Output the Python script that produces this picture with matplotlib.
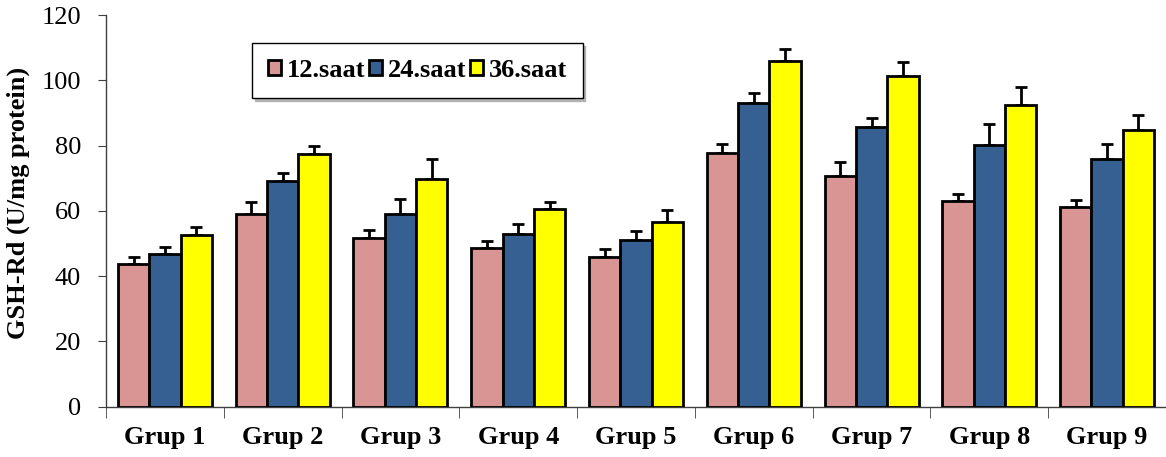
import numpy as np
import matplotlib.pyplot as plt

groups = ["Grup 1", "Grup 2", "Grup 3", "Grup 4", "Grup 5", "Grup 6", "Grup 7", "Grup 8", "Grup 9"]
series = ["12.saat", "24.saat", "36.saat"]

# ortalama değerler
s12 = [43.6, 58.9, 51.6, 48.6, 45.8, 77.6, 70.7, 63.0, 61.2]
s24 = [46.7, 69.2, 59.1, 52.9, 51.1, 92.9, 85.8, 80.2, 75.8]
s36 = [52.6, 77.4, 69.6, 60.5, 56.6, 105.8, 101.2, 92.3, 84.8]

# standart hata (yalnızca yukarı)
e12 = [2.3, 3.7, 2.4, 2.2, 2.5, 2.8, 4.2, 2.2, 2.2]
e24 = [2.3, 2.3, 4.4, 3.1, 2.8, 3.1, 2.5, 6.4, 4.6]
e36 = [2.5, 2.5, 6.2, 2.3, 3.5, 3.7, 4.3, 5.5, 4.6]

colors = ["#D99594", "#366092", "#FFFF00"]

plt.rcParams["font.family"] = ["Liberation Serif", "DejaVu Serif"]

fig = plt.figure(figsize=(11.66, 4.57), dpi=100)
ax = fig.add_axes([0.0909, 0.1105, 0.9091, 0.8565])

x = np.arange(len(groups))
w = 0.266
for i, (vals, errs, col, lab) in enumerate(zip([s12, s24, s36], [e12, e24, e36], colors, series)):
    pos = x + (i - 1) * w
    ax.bar(pos, vals, width=w, color=col, edgecolor="black", linewidth=2, label=lab, zorder=3)
    ax.errorbar(pos, vals, yerr=[np.zeros(len(errs)), errs], fmt="none", ecolor="black",
                elinewidth=2, capsize=4.5, capthick=2, zorder=2)

ax.set_xlim(-0.5, len(groups) - 0.5)
ax.set_ylim(0, 120)
ax.set_yticks(np.arange(0, 121, 20))
ax.tick_params(axis="y", labelsize=19, direction="out", length=6, pad=12, color="#404040")
ax.set_xticks(x)
ax.set_xticklabels(groups, fontsize=19, fontweight="bold")
ax.tick_params(axis="x", which="major", length=0, pad=14)
ax.set_xticks(np.arange(-0.5, len(groups)), minor=True)
ax.tick_params(axis="x", which="minor", length=8, direction="out", color="#404040")
ax.set_ylabel("GSH-Rd (U/mg protein)", fontsize=19, fontweight="bold", labelpad=10)
ax.yaxis.set_label_coords(-0.072, 0.52)

for s in ["top", "right"]:
    ax.spines[s].set_visible(False)
for s in ["left", "bottom"]:
    ax.spines[s].set_color("#404040")
    ax.spines[s].set_linewidth(1)

leg = ax.legend(loc="upper left", bbox_to_anchor=(0.138, 0.928), borderaxespad=0, ncol=3,
                frameon=True, fancybox=False, edgecolor="black",
                shadow={"color": "0.7", "alpha": 1},
                handlelength=0.5, handleheight=0.5, handletextpad=0.2, columnspacing=0.15,
                borderpad=0.6, prop={"size": 19, "weight": "bold"})
leg.get_frame().set_linewidth(1)

fig.savefig("out.png", dpi=100)
